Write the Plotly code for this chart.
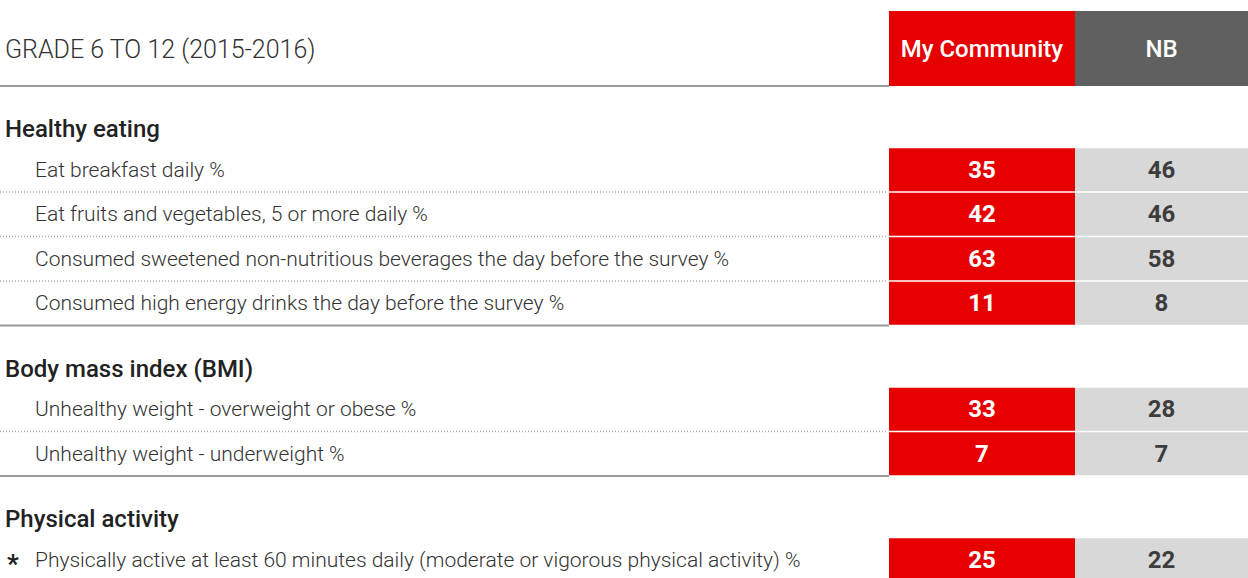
import plotly.graph_objects as go

# table content
table_title = "GRADE 6 TO 12 (2015-2016)"
column_names = ["My Community", "NB"]
section_titles = ["Healthy eating", "Body mass index (BMI)", "Physical activity"]
indicators = [
    ["Eat breakfast daily %",
     "Eat fruits and vegetables, 5 or more daily %",
     "Consumed sweetened non-nutritious beverages the day before the survey %",
     "Consumed high energy drinks the day before the survey %"],
    ["Unhealthy weight - overweight or obese %",
     "Unhealthy weight - underweight %"],
    ["Physically active at least 60 minutes daily (moderate or vigorous physical activity) %"],
]
my_community = [35, 42, 63, 11, 33, 7, 25]
nb = [46, 46, 58, 8, 28, 7, 22]
starred = [False, False, False, False, False, False, True]

# styling
RED = "#e60000"
DARK = "#606060"
LIGHT = "#d7d8d7"
TEXT = "#333333"
FONT = "Roboto"
W, H = 1248, 578
col_x = [889, 1075, 1248]
header_top, header_bot = 11, 86
row_h = 44.5

# work out vertical positions of the rows
row_centers, section_y, solid_lines, dotted_lines = [], [], [header_bot], []
y = header_bot
for rows in indicators:
    title_y = y + 43
    section_y.append(title_y)
    top = title_y + 18.5
    for i in range(len(rows)):
        row_centers.append(top + row_h * i + row_h / 2)
        if i > 0:
            dotted_lines.append(top + row_h * i)
    y = top + row_h * len(rows)
    solid_lines.append(y)
solid_lines = solid_lines[:-1]

flat_labels = [lab for rows in indicators for lab in rows]

fig = go.Figure()

# header cells
fig.add_trace(go.Bar(
    orientation="h",
    y=[(header_top + header_bot) / 2] * 2,
    base=col_x[:2],
    x=[col_x[1] - col_x[0], col_x[2] - col_x[1]],
    width=header_bot - header_top,
    marker=dict(color=[RED, DARK], line_width=0),
    text=column_names,
    textposition="inside",
    insidetextanchor="middle",
    textfont=dict(family=FONT, size=24, color="white", weight=500),
    hoverinfo="skip",
))

# value cells
for vals, colr, tcol, k in [(my_community, RED, "white", 0), (nb, LIGHT, "#3d3d3d", 1)]:
    fig.add_trace(go.Bar(
        orientation="h",
        y=row_centers,
        base=[col_x[k]] * len(vals),
        x=[col_x[k + 1] - col_x[k]] * len(vals),
        width=row_h - 1.5,
        marker=dict(color=colr, line_width=0),
        text=[str(v) for v in vals],
        textposition="inside",
        insidetextanchor="middle",
        textfont=dict(family=FONT, size=24, color=tcol, weight=700),
        hoverinfo="skip",
    ))

annotations = [dict(x=3, y=(header_top + header_bot) / 2 + 1, text=table_title, showarrow=False,
                    xanchor="left", yanchor="middle",
                    font=dict(family=FONT, size=25, color=TEXT, weight=300))]
for t, ty in zip(section_titles, section_y):
    annotations.append(dict(x=3, y=ty, text=t, showarrow=False, xanchor="left", yanchor="middle",
                            font=dict(family=FONT, size=24, color="#222222", weight=500)))
for lab, cy, st in zip(flat_labels, row_centers, starred):
    annotations.append(dict(x=33, y=cy, text=lab, showarrow=False, xanchor="left", yanchor="middle",
                            font=dict(family=FONT, size=21, color=TEXT, weight=300)))
    if st:
        annotations.append(dict(x=13, y=cy, text="*", showarrow=False, xanchor="center",
                                yanchor="middle", yshift=-4,
                                font=dict(family=FONT, size=26, color="#222222", weight=700)))

shapes = []
for ly in solid_lines:
    shapes.append(dict(type="line", x0=0, x1=col_x[0], y0=ly, y1=ly,
                       line=dict(color="#9a9a9a", width=2)))
for ly in dotted_lines:
    shapes.append(dict(type="line", x0=0, x1=col_x[0] - 3, y0=ly, y1=ly,
                       line=dict(color="#a8a8a8", width=1.5, dash="1px,2px")))

fig.update_layout(
    width=W, height=H,
    margin=dict(l=0, r=0, t=0, b=0),
    paper_bgcolor="white", plot_bgcolor="white",
    showlegend=False,
    barmode="overlay",
    xaxis=dict(range=[0, W], visible=False, fixedrange=True),
    yaxis=dict(range=[H, 0], visible=False, fixedrange=True),
    annotations=annotations,
    shapes=shapes,
)

# page body has a default 8px margin; drop it so the table sits flush
fig.write_html("out.html", config={"displayModeBar": False},
               post_script="document.body.style.margin='0px';")
